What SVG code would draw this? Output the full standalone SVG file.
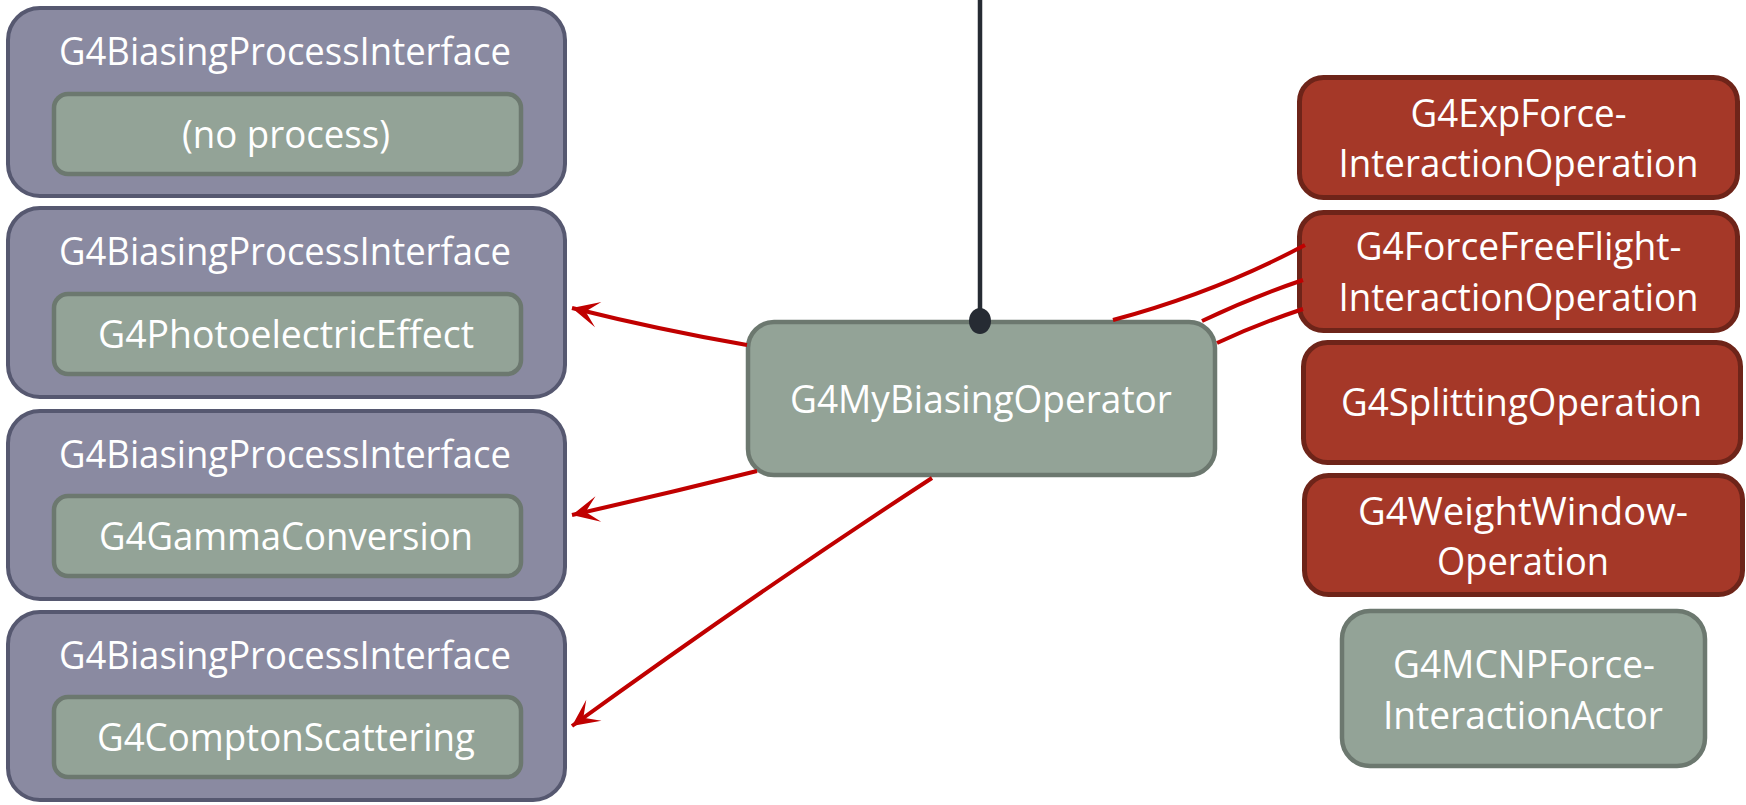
<svg xmlns="http://www.w3.org/2000/svg" width="1746" height="805" viewBox="0 0 1746 805">
<defs>
<style>
.outer{fill:#8a8aa1;stroke:#565870;stroke-width:4}
.inner{fill:#93a397;stroke:#6c786f;stroke-width:4.5}
.red{fill:#a53828;stroke:#6e2419;stroke-width:5}
.green{fill:#93a397;stroke:#6c786f;stroke-width:4.5}
text{font-family:"Open Sans","Liberation Sans",sans-serif;font-size:38.5px;fill:#ffffff;text-anchor:middle}
.conn{fill:none;stroke:#c00000;stroke-width:4}
</style>
<marker id="stealth" markerUnits="userSpaceOnUse" viewBox="-28 -15 30 30" markerWidth="30" markerHeight="30" refX="0" refY="0" orient="auto">
<path d="M 0 0 L -27 -13 L -14 0 L -27 13 Z" fill="#c00000"/>
</marker>
</defs>
<rect width="1746" height="805" fill="#ffffff"/>

<g id="bpi1">
<rect class="outer" x="8" y="8" width="557" height="188" rx="32"/>
<text x="285" y="65" textLength="452" lengthAdjust="spacingAndGlyphs">G4BiasingProcessInterface</text>
<rect class="inner" x="54" y="94" width="467" height="80" rx="14"/>
<text x="286" y="148" textLength="208" lengthAdjust="spacingAndGlyphs">(no process)</text>
</g>
<g id="bpi2">
<rect class="outer" x="8" y="208" width="557" height="189" rx="32"/>
<text x="285" y="265" textLength="452" lengthAdjust="spacingAndGlyphs">G4BiasingProcessInterface</text>
<rect class="inner" x="54" y="294" width="467" height="80" rx="14"/>
<text x="286" y="348" textLength="376" lengthAdjust="spacingAndGlyphs">G4PhotoelectricEffect</text>
</g>
<g id="bpi3">
<rect class="outer" x="8" y="411" width="557" height="188" rx="32"/>
<text x="285" y="468" textLength="452" lengthAdjust="spacingAndGlyphs">G4BiasingProcessInterface</text>
<rect class="inner" x="54" y="496" width="467" height="80" rx="14"/>
<text x="286" y="550" textLength="374" lengthAdjust="spacingAndGlyphs">G4GammaConversion</text>
</g>
<g id="bpi4">
<rect class="outer" x="8" y="612" width="557" height="188" rx="32"/>
<text x="285" y="669" textLength="452" lengthAdjust="spacingAndGlyphs">G4BiasingProcessInterface</text>
<rect class="inner" x="54" y="697" width="467" height="80" rx="14"/>
<text x="286" y="751" textLength="378" lengthAdjust="spacingAndGlyphs">G4ComptonScattering</text>
</g>

<g id="operator">
<rect class="green" x="748" y="322" width="467" height="153" rx="26"/>
<text x="981" y="413" textLength="382" lengthAdjust="spacingAndGlyphs">G4MyBiasingOperator</text>
</g>

<g id="expforce">
<rect class="red" x="1299.5" y="77.5" width="438" height="120" rx="24"/>
<text x="1518.5" y="127" textLength="216" lengthAdjust="spacingAndGlyphs">G4ExpForce-</text>
<text x="1518.5" y="177" textLength="360" lengthAdjust="spacingAndGlyphs">InteractionOperation</text>
</g>
<g id="forcefreeflight">
<rect class="red" x="1299.5" y="212.5" width="438" height="118" rx="24"/>
<text x="1518.5" y="260" textLength="326" lengthAdjust="spacingAndGlyphs">G4ForceFreeFlight-</text>
<text x="1518.5" y="311" textLength="360" lengthAdjust="spacingAndGlyphs">InteractionOperation</text>
</g>
<g id="splitting">
<rect class="red" x="1303.5" y="342.5" width="437" height="120" rx="24"/>
<text x="1521.5" y="416" textLength="361" lengthAdjust="spacingAndGlyphs">G4SplittingOperation</text>
</g>
<g id="weightwindow">
<rect class="red" x="1304.5" y="475.5" width="438" height="119" rx="24"/>
<text x="1523" y="525" textLength="330" lengthAdjust="spacingAndGlyphs">G4WeightWindow-</text>
<text x="1523" y="575" textLength="172" lengthAdjust="spacingAndGlyphs">Operation</text>
</g>
<g id="mcnp">
<rect class="green" x="1342" y="611" width="363" height="155" rx="28"/>
<text x="1524" y="678" textLength="262" lengthAdjust="spacingAndGlyphs">G4MCNPForce-</text>
<text x="1523" y="729" textLength="280" lengthAdjust="spacingAndGlyphs">InteractionActor</text>
</g>

<g id="connectors">
<path class="conn" d="M 747 345 Q 660 330 572 308" marker-end="url(#stealth)"/>
<path class="conn" d="M 757 471 Q 665 494 572 515" marker-end="url(#stealth)"/>
<path class="conn" d="M 932 478 Q 760 590 572 726" marker-end="url(#stealth)"/>
<path class="conn" d="M 1113 320 Q 1217 292 1305 245"/>
<path class="conn" d="M 1202 321 Q 1250 298 1303 280"/>
<path class="conn" d="M 1217 343 Q 1258 324 1303 309"/>
<line x1="980" y1="0" x2="980" y2="321" stroke="#262b33" stroke-width="4.5"/>
<ellipse cx="980" cy="321" rx="11" ry="13" fill="#262b33"/>
</g>
</svg>
